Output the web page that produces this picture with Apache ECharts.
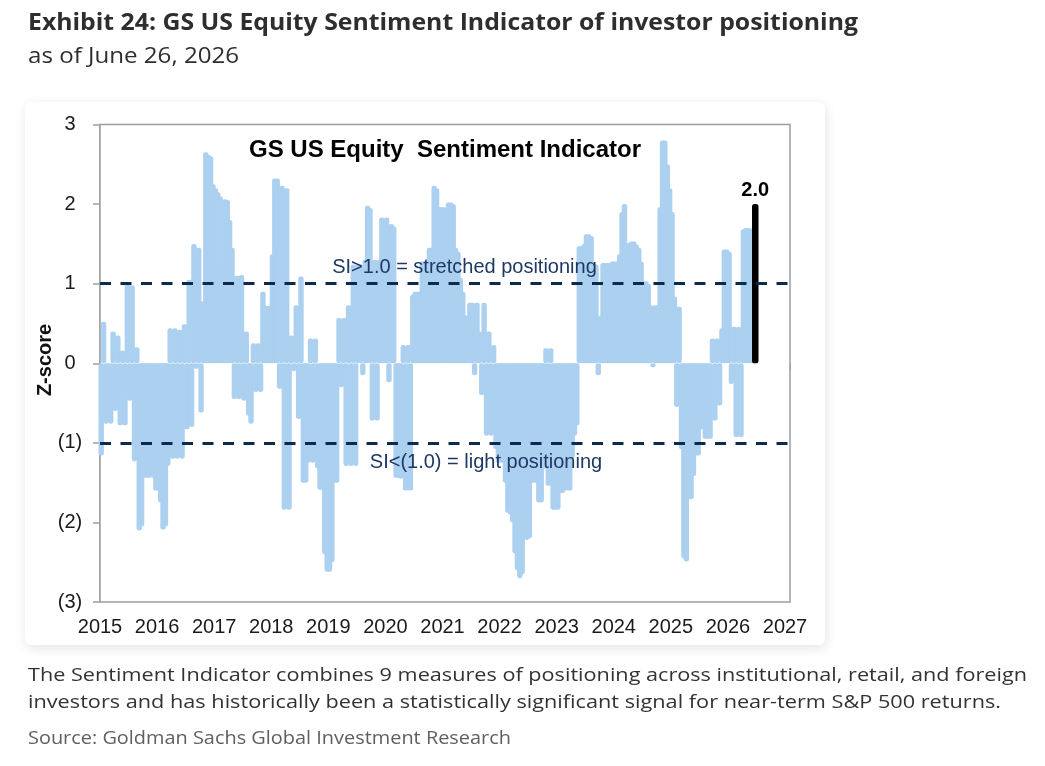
<!DOCTYPE html>
<html>
<head>
<meta charset="utf-8">
<script src="https://cdn.jsdelivr.net/npm/echarts@6/dist/echarts.min.js"></script>
<style>
  html, body { margin: 0; padding: 0; background: #fff; }
  #chart { width: 1045px; height: 766px; }
</style>
</head>
<body>
<div id="chart"></div>
<script>
// GS US Equity Sentiment Indicator, z-score, two readings per month
const startYear = 2015;
const perYear = 24;

const si2015 = [-1.16, 0.52, -0.76, -0.74, -0.76, 0.40, -0.6, 0.35, -0.78, 0.16, -0.78, 1.0, -0.47, 0.98, -1.23, 0.2, -2.1, -2.05, -1.44, -1.44, -1.44, -1.4, -1.44, -1.6];
const si2016 = [-1.6, -1.75, -2.09, -2.05, -1.29, 0.44, -1.2, 0.44, -1.2, 0.42, -1.2, 0.49, -0.83, 1.05, -0.8, 1.5, -0.07, 1.45, -0.62, 0.78, 2.65, 2.62, 2.6, 2.25];
const si2017 = [2.2, 2.15, 2.1, 1.2, 2.06, 2.05, 1.8, 1.45, -0.45, 1.1, -0.45, 1.11, -0.47, 0.4, -0.66, -0.76, 0.25, -0.36, 0.25, -0.36, 0.9, 0.72, 0.72, 0.72];
const si2018 = [1.37, 2.32, 2.32, -0.32, 2.23, -1.84, 2.2, -1.84, 0.35, -0.1, 0.73, -0.7, 1.09, -1.5, -1.5, -1.25, 0.31, -1.25, 0.31, -1.32, -1.59, -1.59, -2.4, -2.62];
const si2019 = [-2.62, -2.5, -1.5, -1.5, 0.57, -0.3, 0.57, -1.29, 0.73, -1.29, 1.24, -1.29, 1.24, 1.24, -0.15, 1.3, 1.98, 1.95, -0.72, 1.3, -0.72, 1.3, 1.83, 1.8];
const si2020 = [1.83, -0.24, 1.75, 1.72, -1.44, -1.44, -1.45, 0.23, -1.6, 0.23, -1.6, 0.86, 0.9, 0.9, 0.9, 1.28, 1.28, 1.3, 1.45, 1.45, 2.23, 2.2, 1.96, 1.96];
const si2021 = [1.96, 1.45, 2.02, 2.02, 2.0, 1.45, 1.4, 1.07, 0.9, 0.6, 0.6, 0.76, 0.76, -0.15, 0.76, 0.4, -0.4, 0.76, -0.91, 0.4, -0.91, 0.23, -1.08, -1.25];
const si2022 = [-1.25, -1.25, -1.5, -1.88, -1.9, -2.0, -2.39, -2.6, -2.7, -2.65, -1.75, -2.22, -2.2, -1.5, -1.5, -1.5, -1.75, -1.75, -1.33, 0.19, -1.54, 0.19, -1.84, -1.84];
const si2023 = [-1.84, -1.63, -1.63, -1.29, -1.6, -1.6, -1.2, -0.91, -0.78, 1.47, 1.47, 1.5, 1.62, 1.62, 1.6, 1.24, 1.24, -0.15, 0.6, 1.26, 1.26, 1.26, 1.26, 1.28];
const si2024 = [1.28, 1.28, 1.37, 1.9, 2.0, 1.51, 1.51, 1.53, 1.53, 1.49, 1.45, 1.28, 1.03, 1.03, 1.0, 0.73, -0.05, 0.73, 0.73, 1.96, 2.8, 2.8, 2.5, 2.2];
const si2025 = [1.9, 0.84, -0.55, 0.71, -1.08, -2.45, -2.49, -1.71, -1.71, -1.42, -1.16, -1.16, -0.83, -0.83, -0.95, -0.95, -0.95, 0.31, -0.72, 0.31, -0.53, 0.44, 1.43, 1.43];
const si2026 = [1.4, -0.26, 0.46, -0.93, 0.46, -0.93, 1.68, 1.7, 1.7, 1.68, 1.7, 2.0]; // last = latest (Jun 26)

const thresholds = [1, -1];

const history = [].concat(si2015, si2016, si2017, si2018, si2019, si2020,
  si2021, si2022, si2023, si2024, si2025, si2026);
const points = history.map((v, i) => [startYear + (i + 0.5) / perYear, v]);
const latest = points.pop();

// axis runs 2015..2027, the frame goes a few px past the last tick
const xMin = 2015;
const xMax = 2027 + 5 / 57.08;

// bar series clamps width to the gap between points, so draw the columns ourselves
function columns(width, color, withLabel) {
  return function (params, api) {
    const x = api.value(0);
    const v = api.value(1);
    const base = api.coord([x, 0]);
    const end = api.coord([x, v]);
    const el = {
      type: 'rect',
      shape: {
        x: base[0] - width / 2, y: Math.min(base[1], end[1]),
        width: width, height: Math.abs(end[1] - base[1]), r: width / 2.5
      },
      style: { fill: color }
    };
    if (withLabel) {
      el.textContent = {
        style: {
          text: v.toFixed(1), fill: '#000',
          font: 'bold 20px "Liberation Sans", Arial'
        }
      };
      el.textConfig = { position: 'top', distance: 4 };
    }
    return el;
  };
}

// squeeze text horizontally so it matches the condensed original type
const ctx = document.createElement('canvas').getContext('2d');
function fitX(text, font, width) {
  ctx.font = font;
  return width / ctx.measureText(text).width;
}

const titleText = 'Exhibit 24: GS US Equity Sentiment Indicator of investor positioning';
const titleFont = 'bold 24px "Open Sans"';
const subText = 'as of June 26, 2026';
const subFont = '22px "Open Sans"';
const note1 = 'The Sentiment Indicator combines 9 measures of positioning across institutional, retail, and foreign';
const note2 = 'investors and has historically been a statistically significant signal for near-term S&P 500 returns.';
const noteFont = '19px "Open Sans"';
const srcText = 'Source: Goldman Sachs Global Investment Research';
const srcFont = '18px "Open Sans"';

const yearLabel = v => (Math.abs(v - Math.round(v)) < 1e-6 ? String(Math.round(v)) : '');

const chart = echarts.init(document.getElementById('chart'));

chart.setOption({
  animation: false,
  backgroundColor: '#fff',
  grid: {
    left: 100, top: 124.5, width: 690, height: 477.5,
    show: true, borderColor: '#9e9e9e', borderWidth: 1.5, backgroundColor: '#fff', z: 1
  },
  xAxis: [{
    type: 'value', min: xMin, max: xMax, interval: 1,
    position: 'bottom',
    axisLine: { show: false, onZero: false },
    axisTick: { show: false },
    splitLine: { show: false },
    axisLabel: {
      margin: 15, color: '#1a1a1a',
      fontFamily: '"Liberation Sans", Arial', fontSize: 20,
      showMaxLabel: false,
      formatter: yearLabel
    }
  }, {
    type: 'value', min: xMin, max: xMax, interval: 1,
    position: 'top',
    axisLine: { show: true, onZero: true, lineStyle: { color: '#8c8c8c', width: 1.5 } },
    axisTick: { show: true, inside: true, length: 7, lineStyle: { color: '#8c8c8c', width: 1.5 } },
    axisLabel: { show: false },
    splitLine: { show: false }
  }],
  yAxis: {
    type: 'value', min: -3, max: 3, interval: 1,
    axisLine: { show: true, lineStyle: { color: '#9e9e9e', width: 1.5 } },
    axisTick: { show: true, length: 7, lineStyle: { color: '#9e9e9e', width: 1.5 } },
    splitLine: { show: false },
    axisLabel: {
      margin: 30, align: 'center', color: '#1a1a1a',
      fontFamily: '"Liberation Sans", Arial', fontSize: 20,
      formatter: v => (v < 0 ? '(' + (-v) + ')' : String(v))
    }
  },
  series: [{
    name: 'Sentiment Indicator',
    type: 'custom',
    xAxisIndex: 0,
    renderItem: columns(5.4, '#abd0f0', false),
    encode: { x: 0, y: 1 },
    data: points,
    z: 2
  }, {
    name: 'Thresholds',
    type: 'line',
    xAxisIndex: 0,
    data: [],
    z: 3,
    markLine: {
      silent: true,
      symbol: 'none',
      label: { show: false },
      lineStyle: { color: '#0e2a4c', width: 3, type: [11, 9.5] },
      data: thresholds.map(t => ({ yAxis: t }))
    }
  }, {
    name: 'Latest',
    type: 'custom',
    xAxisIndex: 0,
    renderItem: columns(6.5, '#000', true),
    encode: { x: 0, y: 1 },
    data: [latest],
    z: 4
  }],
  graphic: [
    {
      type: 'rect', z: -10, silent: true,
      shape: { x: 25, y: 102, width: 800, height: 543, r: 6 },
      style: { fill: '#fff', shadowBlur: 12, shadowOffsetY: 3, shadowOffsetX: 1, shadowColor: 'rgba(0,0,0,0.11)' }
    },
    {
      type: 'text', x: 28, y: 23, scaleX: fitX(titleText, titleFont, 830),
      style: { text: titleText, font: titleFont, fill: '#2e2e2e', verticalAlign: 'middle' }
    },
    {
      type: 'text', x: 28, y: 57, scaleX: fitX(subText, subFont, 211),
      style: { text: subText, font: subFont, fill: '#2e2e2e', verticalAlign: 'middle' }
    },
    {
      type: 'text', x: 445, y: 150, z: 10,
      style: {
        text: 'GS US Equity  Sentiment Indicator', fill: '#000',
        font: 'bold 24px "Liberation Sans", Arial', align: 'center', verticalAlign: 'middle'
      }
    },
    {
      type: 'text', x: 464.5, y: 267, z: 10,
      style: {
        text: 'SI>1.0 = stretched positioning', fill: '#1f3864',
        font: '20px "Liberation Sans", Arial', align: 'center', verticalAlign: 'middle'
      }
    },
    {
      type: 'text', x: 486, y: 462, z: 10,
      style: {
        text: 'SI<(1.0) = light positioning', fill: '#1f3864',
        font: '20px "Liberation Sans", Arial', align: 'center', verticalAlign: 'middle'
      }
    },
    {
      type: 'text', x: 45, y: 360, rotation: Math.PI / 2, z: 10,
      style: {
        text: 'Z-score', fill: '#111',
        font: 'bold 20px "Liberation Sans", Arial', align: 'center', verticalAlign: 'middle'
      }
    },
    {
      type: 'text', x: 28, y: 676, scaleX: fitX(note1, noteFont, 999),
      style: { text: note1, font: noteFont, fill: '#333', verticalAlign: 'middle' }
    },
    {
      type: 'text', x: 28, y: 703, scaleX: fitX(note2, noteFont, 973),
      style: { text: note2, font: noteFont, fill: '#333', verticalAlign: 'middle' }
    },
    {
      type: 'text', x: 28, y: 739, scaleX: fitX(srcText, srcFont, 483),
      style: { text: srcText, font: srcFont, fill: '#5f5f5f', verticalAlign: 'middle' }
    }
  ]
});
</script>
</body>
</html>
